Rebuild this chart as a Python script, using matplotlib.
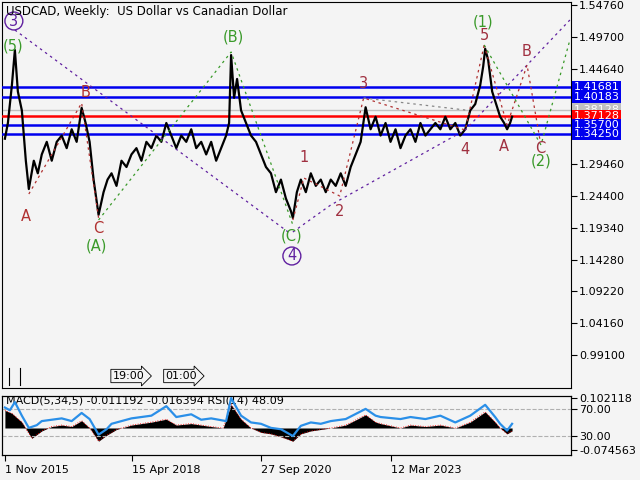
import numpy as np
import matplotlib
matplotlib.use("Agg")
import matplotlib.pyplot as plt

BG = "#F4F4F4"

# pixel -> price mapping (1.54760 at y=5, 0.99100 at y=355)
def py(y):
    return 1.5476 - (y - 5) * 0.00159

# ── Price path (x in chart pixels, price) ────────────────────────────────────
px_x = [3, 6, 10, 13, 16, 20, 24, 27, 32, 36, 40, 45, 50, 55, 60, 65, 70, 75, 80, 84, 88, 92, 97,
        102, 106, 110, 115, 120, 125, 130, 135, 140, 145, 150, 155, 160, 165, 170, 175, 180, 185,
        190, 195, 200, 205, 210, 215, 220, 225, 228, 230, 233, 236, 240, 245, 250, 255, 260, 265,
        270, 275, 280, 285, 290, 292, 296, 300, 305, 310, 315, 320, 325, 330, 335, 340, 345, 350,
        355, 360, 365, 370, 375, 380, 385, 390, 395, 400, 405, 410, 415, 420, 425, 430, 435, 440,
        445, 450, 455, 460, 465, 470, 475, 480, 483, 485, 488, 492, 496, 500, 504, 507, 510, 512]
price = [1.335, 1.36, 1.42, 1.476, 1.41, 1.38, 1.30, 1.255, 1.30, 1.28, 1.31, 1.33, 1.30, 1.33,
         1.34, 1.32, 1.35, 1.33, 1.384, 1.36, 1.33, 1.27, 1.214, 1.25, 1.27, 1.28, 1.26, 1.30,
         1.29, 1.31, 1.32, 1.30, 1.33, 1.32, 1.34, 1.33, 1.36, 1.34, 1.32, 1.34, 1.33, 1.35, 1.32,
         1.33, 1.31, 1.33, 1.30, 1.32, 1.34, 1.36, 1.468, 1.40, 1.43, 1.38, 1.36, 1.34, 1.33,
         1.31, 1.29, 1.28, 1.25, 1.27, 1.24, 1.22, 1.209, 1.25, 1.27, 1.25, 1.28, 1.26, 1.27,
         1.25, 1.27, 1.26, 1.28, 1.26, 1.29, 1.31, 1.33, 1.385, 1.35, 1.37, 1.34, 1.36, 1.33,
         1.35, 1.32, 1.34, 1.35, 1.33, 1.36, 1.34, 1.35, 1.36, 1.35, 1.37, 1.35, 1.36, 1.34,
         1.35, 1.38, 1.39, 1.42, 1.45, 1.478, 1.46, 1.41, 1.39, 1.37, 1.36, 1.35, 1.36, 1.37]

levels_blue = [1.41681, 1.40183, 1.35700, 1.34250]
level_red = 1.37128
level_gray = 1.38128

right_ticks = [1.54760, 1.49700, 1.44640, 1.29460, 1.24400, 1.19340, 1.14280,
               1.09220, 1.04160, 0.99100]

# ── Wave labels: (text, x px, y px, colour, circled) ─────────────────────────
RED = "#B03030"
GRN = "#3A9A2A"
PUR = "#6020A0"
BRN = "#A03040"
labels = [("3", 12, 21, PUR, True), ("(5)", 11, 46, GRN, False), ("A", 24, 216, RED, False),
          ("B", 84, 92, RED, False), ("C", 97, 228, RED, False), ("(A)", 95, 246, GRN, False),
          ("(B)", 232, 37, GRN, False), ("(C)", 291, 236, GRN, False), ("4", 291, 256, PUR, True),
          ("1", 303, 157, BRN, False), ("2", 339, 211, BRN, False), ("3", 363, 84, BRN, False),
          ("4", 465, 149, BRN, False), ("5", 484, 36, BRN, False), ("(1)", 483, 22, GRN, False),
          ("A", 504, 146, BRN, False), ("B", 527, 52, BRN, False), ("C", 540, 148, BRN, False),
          ("(2)", 541, 161, GRN, False)]

# dashed wave lines (x px list, y px list, colour)
waves = [([13, 290], [30, 234], PUR),
         ([292, 330, 465, 570], [232, 205, 130, 20], PUR),
         ([27, 80, 97], [194, 103, 218], RED),
         ([97, 230, 292], [220, 52, 225], GRN),
         ([292, 303, 339, 363, 465, 484], [220, 178, 196, 98, 130, 45], RED),
         ([363, 465], [98, 110], "#888888"),
         ([484, 507, 527, 540], [45, 125, 65, 140], RED),
         ([484, 541, 570], [45, 145, 40], GRN)]

# ── MACD / RSI sub-window ───────────────────────────────────────────────────
m_x = [3, 10, 20, 30, 40, 50, 60, 70, 80, 88, 97, 105, 115, 130, 150, 165, 175, 190, 210, 222,
       230, 240, 250, 260, 270, 280, 292, 300, 310, 320, 330, 345, 365, 375, 380, 400, 410, 425,
       440, 455, 470, 485, 495, 500, 507, 512]
macd = [0.06, 0.05, 0.02, -0.035, -0.01, 0.005, 0.01, 0.005, 0.025, 0.0, -0.045, -0.025, -0.005,
        0.01, 0.02, 0.03, 0.01, 0.015, 0.005, 0.0, 0.08, 0.03, 0.0, -0.015, -0.02, -0.03, -0.045,
        -0.02, -0.01, -0.005, 0.0, 0.01, 0.045, 0.02, 0.015, 0.0, 0.01, 0.005, 0.01, 0.0, 0.02,
        0.055, 0.02, 0.0, -0.02, -0.01]
r_x = [3, 8, 13, 20, 27, 35, 40, 50, 60, 70, 80, 88, 97, 105, 110, 120, 130, 150, 165, 175, 190,
       200, 210, 225, 230, 240, 250, 260, 270, 280, 292, 300, 310, 320, 330, 345, 365, 375, 380,
       400, 410, 425, 440, 455, 470, 485, 495, 500, 507, 512]
rsi = [72, 68, 80, 60, 42, 46, 52, 54, 56, 52, 64, 55, 32, 40, 48, 52, 56, 60, 74, 58, 62, 54, 56,
       52, 86, 60, 50, 48, 42, 40, 30, 45, 50, 48, 52, 55, 70, 60, 58, 55, 58, 55, 60, 50, 60, 76,
       58, 48, 38, 48]

x_ticks = [3, 131, 260, 390]
x_tick_labels = ["1 Nov 2015", "15 Apr 2018", "27 Sep 2020", "12 Mar 2023"]

# ── Figure ──────────────────────────────────────────────────────────────────
plt.rcParams.update({"font.family": "DejaVu Sans", "font.size": 8})
fig = plt.figure(figsize=(6.4, 4.8), dpi=100, facecolor=BG)
XR = (0, 571)

ax = fig.add_axes([0.003, 1 - 388 / 480, 0.889, 386 / 480], facecolor=BG)
ax.set_xlim(*XR)
ax.set_ylim(py(388), py(2))
for lv in levels_blue:
    ax.axhline(lv, color="#0000EE", lw=1.8, zorder=3)
ax.axhline(level_gray, color="#C0C0C0", lw=1, zorder=2)
ax.axhline(level_red, color="#FF0000", lw=1.8, zorder=3)
ax.plot(px_x, price, color="black", lw=1.6, zorder=4)

for xs, ys, c in waves:
    ax.plot(xs, [py(v) for v in ys], color=c, lw=0.9, ls=(0, (2, 3)), zorder=5)

for t, x, y, c, circ in labels:
    kw = {}
    if circ:
        kw["bbox"] = dict(boxstyle="circle,pad=0.1", fc="none", ec=c, lw=1)
    ax.text(x, py(y), t, color=c, fontsize=10.5, ha="center", va="center", zorder=6, **kw)

ax.text(4, py(11), "USDCAD, Weekly:  US Dollar vs Canadian Dollar", fontsize=8.5,
        va="center", ha="left", zorder=7)

# time markers strip
ax.plot([7, 7], [py(368), py(385)], color="black", lw=0.8)
ax.plot([18, 18], [py(368), py(385)], color="black", lw=0.8)
for t, x in [("19:00", 111), ("01:00", 164)]:
    ax.text(x, py(376), t, fontsize=8, ha="left", va="center",
            bbox=dict(boxstyle="rarrow,pad=0.15", fc=BG, ec="black", lw=0.6))

ax.set_xticks([])
ax.yaxis.tick_right()
ax.set_yticks(right_ticks)
ax.set_yticklabels([f"{v:.5f}" for v in right_ticks])
ax.tick_params(axis="y", length=4, pad=2, labelsize=8)

# coloured price boxes on the right axis (gray one sits behind the others)
boxes = [(1.38128, "#C0C0C0", 7), (1.41681, "#0000EE", 8), (1.40183, "#0000EE", 8),
         (1.37128, "#FF0000", 8), (1.35700, "#0000EE", 8), (1.34250, "#0000EE", 8)]
for v, fc, z in boxes:
    ax.text(1.005, v, f"{v:.5f}", transform=ax.get_yaxis_transform(), fontsize=8,
            color="white", va="center", ha="left", zorder=z, clip_on=False,
            bbox=dict(boxstyle="square,pad=0.12", fc=fc, ec="none"))

# ── MACD / RSI window ───────────────────────────────────────────────────────
ax2 = fig.add_axes([0.003, 1 - 455 / 480, 0.889, 59 / 480], facecolor=BG)
ax2.set_xlim(*XR)
ax2.set_ylim(-0.092, 0.109)
ax2.fill_between(m_x, 0, macd, color="black", lw=0, zorder=2)
ax2.plot(m_x, macd, color="red", lw=0.6, ls=(0, (1, 2)), zorder=3)

ax3 = ax2.twinx()
ax3.set_ylim(2, 89)
ax3.axhline(70, color="#B0B0B0", lw=0.8, ls="--")
ax3.axhline(30, color="#B0B0B0", lw=0.8, ls="--")
ax3.plot(r_x, rsi, color="#2A8FE8", lw=1.6, zorder=4)
ax3.set_yticks([70, 30])
ax3.set_yticklabels(["70.00", "30.00"])
ax3.tick_params(axis="y", length=4, pad=2, labelsize=8)
ax3.set_xlim(*XR)

ax2.yaxis.tick_right()
ax2.set_yticks([0.102118, -0.074563])
ax2.set_yticklabels(["0.102118", "-0.074563"])
ax2.tick_params(axis="y", length=4, pad=2, labelsize=8)

ax2.text(4, 0.093, "MACD(5,34,5) -0.011192 -0.016394 RSI(14) 48.09", fontsize=8,
         va="center", ha="left", zorder=7)
ax2.set_xticks(x_ticks)
ax2.set_xticklabels(x_tick_labels)
ax2.tick_params(axis="x", length=4, labelsize=8)
for lab in ax2.get_xticklabels():
    lab.set_horizontalalignment("left")

fig.savefig("out.png", dpi=100, facecolor=BG)
